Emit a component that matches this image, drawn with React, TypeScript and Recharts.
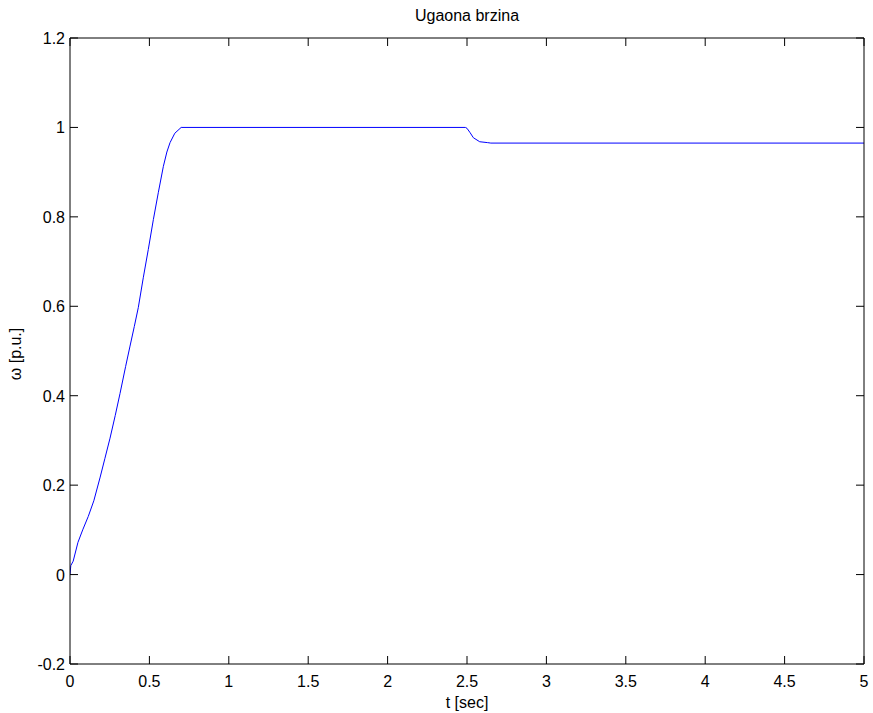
import React from "react";
import { LineChart, Line, XAxis, YAxis } from "recharts";

const timeSec = [0, 0.005, 0.02, 0.05, 0.08, 0.115, 0.15, 0.19, 0.22, 0.252, 0.285, 0.315, 0.35, 0.378, 0.405, 0.43, 0.462, 0.493, 0.525, 0.556, 0.588, 0.61, 0.63, 0.66, 0.70, 2.49, 2.5, 2.52, 2.54, 2.58, 2.63, 2.65, 5];
const omega = [0, 0.02, 0.03, 0.072, 0.1, 0.13, 0.165, 0.218, 0.26, 0.305, 0.356, 0.405, 0.465, 0.511, 0.555, 0.597, 0.665, 0.727, 0.794, 0.854, 0.913, 0.945, 0.966, 0.987, 1.0, 1.0, 0.998, 0.988, 0.977, 0.968, 0.966, 0.965, 0.965];
const xTicks = [0, 0.5, 1, 1.5, 2, 2.5, 3, 3.5, 4, 4.5, 5];
const yTicks = [-0.2, 0, 0.2, 0.4, 0.6, 0.8, 1, 1.2];

const data = timeSec.map((t, i) => ({ t, w: omega[i] }));

const FONT = "'Liberation Sans', Arial, Helvetica, sans-serif";
const TL = 8;

const BottomTick = (props: any) => {
  const { x, y, payload } = props;
  return (
    <g>
      <line x1={x} x2={x} y1={y} y2={y - TL} stroke="#000" />
      <text x={x} y={y + 23} textAnchor="middle" fontSize={16} fontFamily={FONT} fill="#000">
        {String(payload.value)}
      </text>
    </g>
  );
};
const TopTick = (props: any) => {
  const { x, y } = props;
  return <line x1={x} x2={x} y1={y} y2={y + TL} stroke="#000" />;
};
const LeftTick = (props: any) => {
  const { x, y, payload } = props;
  return (
    <g>
      <line x1={x} x2={x + TL} y1={y} y2={y} stroke="#000" />
      <text x={x - 5} y={y + 6} textAnchor="end" fontSize={16} fontFamily={FONT} fill="#000">
        {String(payload.value)}
      </text>
    </g>
  );
};
const RightTick = (props: any) => {
  const { x, y } = props;
  return <line x1={x} x2={x - TL} y1={y} y2={y} stroke="#000" />;
};

export default function App() {
  return (
    <div style={{ position: "absolute", left: 0, top: 0, background: "#fff" }}>
      <div style={{ position: "relative", width: 873, height: 713 }}>
        <LineChart width={873} height={713} data={data} margin={{ top: 37, right: 8, left: 0, bottom: 0 }}>
          <XAxis
            xAxisId="b"
            dataKey="t"
            type="number"
            domain={[0, 5]}
            ticks={xTicks}
            height={49}
            axisLine={{ stroke: "#000" }}
            tickLine={false}
            tickSize={0}
            tickMargin={0}
            tick={<BottomTick />}
            allowDataOverflow
          />
          <XAxis
            xAxisId="top"
            orientation="top"
            dataKey="t"
            type="number"
            domain={[0, 5]}
            ticks={xTicks}
            height={1}
            axisLine={{ stroke: "#000" }}
            tickLine={false}
            tickSize={0}
            tickMargin={0}
            tick={<TopTick />}
            allowDataOverflow
          />
          <YAxis
            yAxisId="l"
            type="number"
            domain={[-0.2, 1.2]}
            ticks={yTicks}
            width={70}
            axisLine={{ stroke: "#000" }}
            tickLine={false}
            tickSize={0}
            tickMargin={0}
            tick={<LeftTick />}
            allowDataOverflow
          />
          <YAxis
            yAxisId="r"
            orientation="right"
            type="number"
            domain={[-0.2, 1.2]}
            ticks={yTicks}
            width={1}
            axisLine={{ stroke: "#000" }}
            tickLine={false}
            tickSize={0}
            tickMargin={0}
            tick={<RightTick />}
            allowDataOverflow
          />
          <Line
            xAxisId="b"
            yAxisId="l"
            type="linear"
            dataKey="w"
            stroke="#0000FF"
            strokeWidth={1}
            dot={false}
            isAnimationActive={false}
          />
          <Line
            xAxisId="top"
            yAxisId="r"
            type="linear"
            dataKey="w"
            stroke="none"
            dot={false}
            legendType="none"
            isAnimationActive={false}
          />
          <text x={467} y={21} textAnchor="middle" fontSize={16} fontFamily={FONT} fill="#000">
            Ugaona brzina
          </text>
          <text x={467} y={708} textAnchor="middle" fontSize={16} fontFamily={FONT} fill="#000">
            t [sec]
          </text>
          <text
            x={21}
            y={354}
            textAnchor="middle"
            fontSize={16}
            fontFamily={FONT}
            fill="#000"
            transform="rotate(-90 21 354)"
          >
            ω [p.u.]
          </text>
        </LineChart>
      </div>
    </div>
  );
}
